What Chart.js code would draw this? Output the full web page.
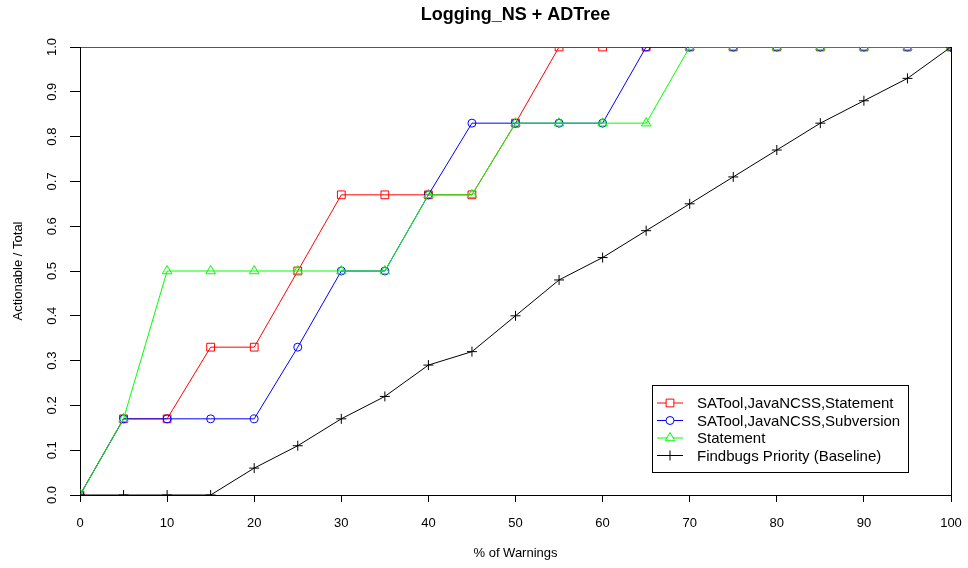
<!DOCTYPE html>
<html>
<head>
<meta charset="utf-8">
<script src="https://cdn.jsdelivr.net/npm/chart.js@4"></script>
<style>
  body { margin: 0; background: #fff; }
  #wrap { width: 968px; height: 568px; }
</style>
</head>
<body>
<div id="wrap"><canvas id="myChart"></canvas></div>
<script>
const warnings = [0, 5, 10, 15, 20, 25, 30, 35, 40, 45, 50, 55, 60, 65, 70, 75, 80, 85, 90, 95, 100];
const satoolStatement = [0, 0.17, 0.17, 0.33, 0.33, 0.5, 0.67, 0.67, 0.67, 0.67, 0.83, 1, 1, 1, 1, 1, 1, 1, 1, 1, 1];
const satoolSubversion = [0, 0.17, 0.17, 0.17, 0.17, 0.33, 0.5, 0.5, 0.67, 0.83, 0.83, 0.83, 0.83, 1, 1, 1, 1, 1, 1, 1, 1];
const statementOnly = [0, 0.17, 0.5, 0.5, 0.5, 0.5, 0.5, 0.5, 0.67, 0.67, 0.83, 0.83, 0.83, 0.83, 1, 1, 1, 1, 1, 1, 1];
const findbugsBaseline = [0, 0, 0, 0, 0.06, 0.11, 0.17, 0.22, 0.29, 0.32, 0.4, 0.48, 0.53, 0.59, 0.65, 0.71, 0.77, 0.83, 0.88, 0.93, 1];

const FONT = 'Liberation Sans, Arial, Helvetica, sans-serif';
const chartTitle = 'Logging_NS + ADTree';

function pts(values) {
  return values.map((v, i) => ({ x: warnings[i], y: v }));
}

// title centred over the plot, y tick labels turned like R does
const rStyleText = {
  id: 'rStyleText',
  afterDraw(chart) {
    const c = chart.ctx;
    const area = chart.chartArea;
    const ys = chart.scales.y;
    c.save();
    c.fillStyle = '#000';
    c.textAlign = 'center';
    c.textBaseline = 'middle';
    c.font = 'bold 18px ' + FONT;
    c.fillText(chartTitle, (area.left + area.right) / 2, 15);
    c.font = '13px ' + FONT;
    ys.ticks.forEach(t => {
      const py = ys.getPixelForValue(t.value);
      c.save();
      c.translate(52, py);
      c.rotate(-Math.PI / 2);
      c.fillText(Number(t.value).toFixed(1), 0, 0);
      c.restore();
    });
    c.restore();
  }
};

// legend box drawn inside the plot like R's legend()
const boxLegend = {
  id: 'boxLegend',
  afterDraw(chart) {
    const c = chart.ctx;
    const x0 = 652, y0 = 385, w = 256, h = 87;
    c.save();
    c.fillStyle = '#fff';
    c.fillRect(x0, y0, w, h);
    c.strokeStyle = '#000';
    c.lineWidth = 1;
    c.strokeRect(x0 + 0.5, y0 + 0.5, w, h);
    c.font = '15px ' + FONT;
    c.textBaseline = 'middle';
    chart.data.datasets.forEach((ds, i) => {
      const y = y0 + 18 + i * 17.5;
      c.strokeStyle = ds.borderColor;
      c.lineWidth = 1;
      c.beginPath();
      c.moveTo(x0 + 5, y);
      c.lineTo(x0 + 31, y);
      c.stroke();
      const opts = { pointStyle: ds.pointStyle, radius: ds.pointRadius, borderWidth: 1 };
      c.fillStyle = '#fff';
      if (Chart.helpers && Chart.helpers.drawPoint) {
        Chart.helpers.drawPoint(c, opts, x0 + 18, y);
      }
      c.fillStyle = '#000';
      c.fillText(ds.label, x0 + 45, y + 1);
    });
    c.restore();
  }
};

const ctx = document.getElementById('myChart');
new Chart(ctx, {
  type: 'line',
  data: {
    datasets: [{
      label: 'SATool,JavaNCSS,Statement',
      data: pts(satoolStatement),
      borderColor: '#ff0000',
      pointStyle: 'rect',
      pointRadius: 5.5,
      order: 4
    }, {
      label: 'SATool,JavaNCSS,Subversion',
      data: pts(satoolSubversion),
      borderColor: '#0000ff',
      pointStyle: 'circle',
      pointRadius: 4,
      order: 3
    }, {
      label: 'Statement',
      data: pts(statementOnly),
      borderColor: '#00ff00',
      pointStyle: 'triangle',
      pointRadius: 5.5,
      order: 2
    }, {
      label: 'Findbugs Priority (Baseline)',
      data: pts(findbugsBaseline),
      borderColor: '#000000',
      pointStyle: 'cross',
      pointRadius: 5,
      order: 1
    }]
  },
  options: {
    responsive: true,
    maintainAspectRatio: false,
    animation: false,
    layout: { padding: { left: 0, right: 17, top: 47, bottom: 0 } },
    elements: {
      line: { borderWidth: 1, tension: 0 },
      point: { borderWidth: 1, backgroundColor: 'rgba(0,0,0,0)', hoverRadius: 5 }
    },
    plugins: {
      legend: { display: false },
      tooltip: { enabled: false },
      title: { display: false }
    },
    scales: {
      x: {
        type: 'linear',
        min: 0,
        max: 100,
        afterFit: s => {
          s.height = 73;
          s.paddingLeft = 0;
          s.paddingRight = 0;
        },
        ticks: {
          stepSize: 10,
          color: '#000',
          padding: 14,
          font: { family: FONT, size: 13 },
          maxRotation: 0
        },
        grid: {
          color: c => c.tick && c.tick.value === 100 ? '#000' : 'rgba(0,0,0,0)',
          tickColor: '#000',
          tickLength: 7,
          drawOnChartArea: true
        },
        border: { color: '#000', width: 1 },
        title: {
          display: true,
          text: '% of Warnings',
          color: '#000',
          font: { family: FONT, size: 13 },
          padding: { top: 7, bottom: 7 }
        }
      },
      y: {
        min: 0,
        max: 1,
        afterFit: s => { s.width = 80; },
        ticks: {
          stepSize: 0.1,
          display: false
        },
        grid: {
          color: c => c.tick && Math.abs(c.tick.value - 1) < 1e-9 ? '#555' : 'rgba(0,0,0,0)',
          tickColor: '#000',
          tickLength: 10,
          drawOnChartArea: true
        },
        border: { color: '#000', width: 1 },
        title: {
          display: true,
          text: 'Actionable / Total',
          color: '#000',
          font: { family: FONT, size: 13 },
          padding: { top: 11, bottom: 11 }
        }
      }
    }
  },
  plugins: [rStyleText, boxLegend]
});
</script>
</body>
</html>
